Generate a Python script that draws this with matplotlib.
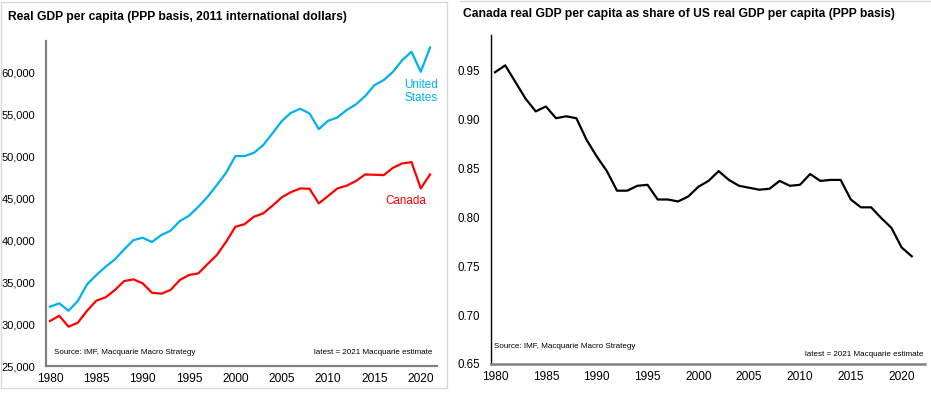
import matplotlib
matplotlib.use("Agg")
import matplotlib.pyplot as plt
from matplotlib.ticker import FuncFormatter
from matplotlib.patches import Rectangle
from matplotlib.lines import Line2D

plt.rcParams['font.family'] = ['Liberation Sans', 'DejaVu Sans']

years = list(range(1980, 2022))

us_gdp = [32080, 32480, 31600, 32760, 34750, 35860, 36850, 37730, 38920, 40030,
          40310, 39800, 40630, 41150, 42300, 42940, 44010, 45200, 46600, 48070,
          50060, 50060, 50450, 51370, 52770, 54240, 55230, 55710, 55150, 53280,
          54270, 54670, 55550, 56230, 57220, 58530, 59130, 60120, 61520, 62510,
          60120, 63030]

canada_gdp = [30370, 31000, 29690, 30170, 31600, 32800, 33200, 34070, 35140, 35340,
              34870, 33750, 33630, 34070, 35260, 35860, 36060, 37170, 38250, 39830,
              41620, 41940, 42820, 43220, 44130, 45130, 45760, 46200, 46160, 44410,
              45290, 46200, 46520, 47080, 47870, 47830, 47790, 48660, 49180, 49340,
              46200, 47870]

ratio = [0.948, 0.955, 0.938, 0.921, 0.908, 0.913, 0.901, 0.903, 0.901, 0.879,
         0.862, 0.847, 0.827, 0.827, 0.832, 0.833, 0.818, 0.818, 0.816, 0.821,
         0.831, 0.837, 0.847, 0.838, 0.832, 0.830, 0.828, 0.829, 0.837, 0.832,
         0.833, 0.844, 0.837, 0.838, 0.838, 0.818, 0.810, 0.810, 0.799, 0.789,
         0.769, 0.760]

x_ticks = [1980, 1985, 1990, 1995, 2000, 2005, 2010, 2015, 2020]
left_yticks = [25000, 30000, 35000, 40000, 45000, 50000, 55000, 60000]
right_yticks = [0.65, 0.70, 0.75, 0.80, 0.85, 0.90, 0.95]

W, H = 931, 393
fig = plt.figure(figsize=(W / 100, H / 100), dpi=100)

def fx(px):
    return px / W

def fy(py):
    return 1 - py / H

# panel frames
fig.add_artist(Rectangle((fx(0.5), fy(387.5)), fx(446), fy(2) - fy(387.5),
                         transform=fig.transFigure, fill=False,
                         edgecolor='#d9d9d9', linewidth=1.0))
fig.add_artist(Line2D([fx(460), fx(931)], [fy(1), fy(1)], transform=fig.transFigure,
                      color='#d9d9d9', linewidth=1.0))

# ---------- Left chart ----------
ax1 = fig.add_axes([fx(46), fy(366), fx(437) - fx(46), fy(41) - fy(366)])
ax1.plot(years, us_gdp, color='#00B0F0', linewidth=1.6)
ax1.plot(years, canada_gdp, color='#FF0000', linewidth=1.6)
ax1.set_xlim(1979.57, 2021.75)
ax1.set_ylim(25000, 63800)
ax1.set_xticks(x_ticks)
ax1.set_yticks(left_yticks)
ax1.yaxis.set_major_formatter(FuncFormatter(lambda v, p: f"{int(v):,}"))
for s in ['top', 'right']:
    ax1.spines[s].set_visible(False)
ax1.spines['left'].set_color('#808080')
ax1.spines['left'].set_linewidth(1.6)
ax1.spines['bottom'].set_color('#808080')
ax1.spines['bottom'].set_linewidth(1.6)
ax1.tick_params(axis='y', length=0, labelsize=8.0, colors='black', pad=8)
ax1.tick_params(axis='x', length=0, labelsize=8.6, colors='black', pad=5)
ax1.text(2020.0, 57760, "United\nStates", color='#00B0F0', fontsize=8.4,
         ha='center', va='center', linespacing=1.05)
ax1.text(2018.4, 44700, "Canada", color='#FF0000', fontsize=8.4, ha='center', va='center')
ax1.text(1980.4, 26600, "Source: IMF, Macquarie Macro Strategy", fontsize=5.8,
         ha='left', va='center')
ax1.text(2021.3, 26600, "latest = 2021 Macquarie estimate", fontsize=5.8,
         ha='right', va='center')
fig.text(fx(8), fy(17), "Real GDP per capita (PPP basis, 2011 international dollars)",
         fontsize=8.7, fontweight='bold', ha='left', va='center')

# ---------- Right chart ----------
ax2 = fig.add_axes([fx(491), fy(364), fx(925) - fx(491), fy(35) - fy(364)])
ax2.plot(years, ratio, color='black', linewidth=1.6)
ax2.set_xlim(1979.6, 2022.3)
ax2.set_ylim(0.65, 0.986)
ax2.set_xticks(x_ticks)
ax2.set_yticks(right_yticks)
ax2.yaxis.set_major_formatter(FuncFormatter(lambda v, p: f"{v:.2f}"))
for s in ['top', 'right']:
    ax2.spines[s].set_visible(False)
ax2.spines['left'].set_color('black')
ax2.spines['left'].set_linewidth(1.0)
ax2.spines['bottom'].set_color('#808080')
ax2.spines['bottom'].set_linewidth(1.8)
ax2.tick_params(axis='y', length=0, labelsize=8.3, colors='black', pad=8)
ax2.tick_params(axis='x', length=0, labelsize=8.6, colors='black', pad=5)
ax2.text(1979.9, 0.6675, "Source: IMF, Macquarie Macro Strategy", fontsize=5.8,
         ha='left', va='center')
ax2.text(2022.1, 0.6595, "latest = 2021 Macquarie estimate", fontsize=5.8,
         ha='right', va='center')
fig.text(fx(463), fy(14), "Canada real GDP per capita as share of US real GDP per capita (PPP basis)",
         fontsize=8.7, fontweight='bold', ha='left', va='center')

fig.savefig("out.png", dpi=100)
